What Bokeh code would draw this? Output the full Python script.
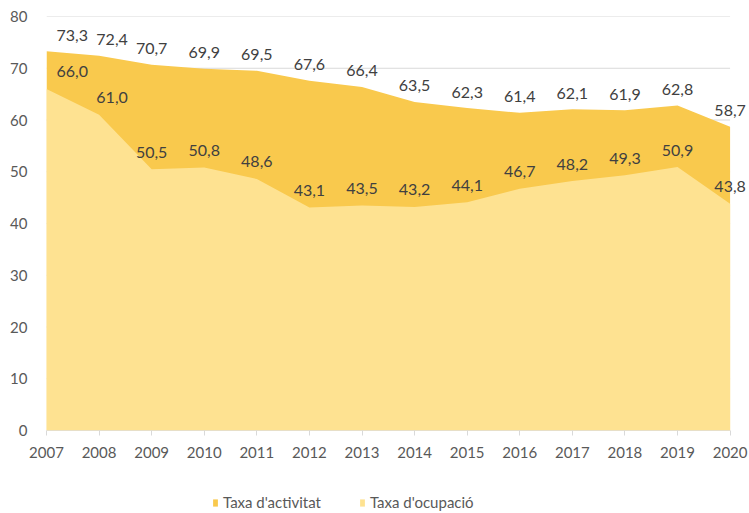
from bokeh.plotting import figure
from bokeh.layouts import column
from bokeh.models import ColumnDataSource, LabelSet, Legend, LegendItem, FixedTicker, Range1d
from bokeh.core.properties import value
from bokeh.embed import file_html
from bokeh.resources import INLINE

years = [2007, 2008, 2009, 2010, 2011, 2012, 2013, 2014, 2015, 2016, 2017, 2018, 2019, 2020]
activitat = [73.3, 72.4, 70.7, 69.9, 69.5, 67.6, 66.4, 63.5, 62.3, 61.4, 62.1, 61.9, 62.8, 58.7]
ocupacio = [66.0, 61.0, 50.5, 50.8, 48.6, 43.1, 43.5, 43.2, 44.1, 46.7, 48.2, 49.3, 50.9, 43.8]
y_ticks = [0, 10, 20, 30, 40, 50, 60, 70, 80]
series_names = ["Taxa d'activitat", "Taxa d'ocupació"]

COL_ACT = "#F9C94D"
COL_OCU = "#FEE291"
GRID = "#D9D9D9"
FONT = "Lato"

def fmt(v):
    return f"{v:.1f}".replace(".", ",")

n = len(years)
# first label sits inside the plot edge, second nudged right to avoid overlap
align = ["left" if i == 0 else "center" for i in range(n)]
xoff = [10 if i == 0 else (13 if i == 1 else 0) for i in range(n)]

src = ColumnDataSource(dict(
    x=years, act=activitat, ocu=ocupacio,
    act_txt=[fmt(v) for v in activitat],
    ocu_txt=[fmt(v) for v in ocupacio],
    align=align, xoff=xoff,
))

p = figure(width=749, height=490, output_backend="svg", toolbar_location=None,
           x_range=Range1d(years[0], years[-1] + 0.35), y_range=Range1d(0, 80),
           min_border_left=46, min_border_right=1, min_border_top=16, min_border_bottom=60)
p.outline_line_color = None
p.background_fill_color = "white"

# horizontal gridlines spanning only the data years
p.segment(x0=[years[0]] * len(y_ticks), x1=[years[-1]] * len(y_ticks),
          y0=y_ticks, y1=y_ticks, line_color=GRID, line_width=1, level="underlay")

r_act = p.varea(x="x", y1=0, y2="act", source=src, fill_color=COL_ACT)
r_ocu = p.varea(x="x", y1=0, y2="ocu", source=src, fill_color=COL_OCU)

# x axis line
p.segment(x0=[years[0]], x1=[years[-1]], y0=[0], y1=[0], line_color=GRID, line_width=1)

p.xgrid.grid_line_color = None
p.ygrid.grid_line_color = None

p.yaxis.ticker = FixedTicker(ticks=y_ticks)
p.yaxis.axis_line_color = None
p.yaxis.major_tick_line_color = None
p.yaxis.minor_tick_line_color = None
p.yaxis.major_label_standoff = 13
p.yaxis.major_label_text_font = FONT
p.yaxis.major_label_text_font_size = "15px"
p.yaxis.major_label_text_color = "#595959"

p.xaxis.ticker = FixedTicker(ticks=years)
p.xaxis.major_label_overrides = {y: str(y) for y in years}
p.xaxis.axis_line_color = None
p.xaxis.major_tick_line_color = GRID
p.xaxis.major_tick_out = 5
p.xaxis.major_tick_in = 0
p.xaxis.minor_tick_line_color = None
p.xaxis.major_label_standoff = 11
p.xaxis.major_label_text_font = FONT
p.xaxis.major_label_text_font_size = "15px"
p.xaxis.major_label_text_color = "#595959"

for col, txt, off in (("act", "act_txt", 16), ("ocu", "ocu_txt", 17)):
    ls = LabelSet(x="x", y=col, text=txt, source=src, y_offset=off, x_offset="xoff",
                  text_align="align", text_baseline="middle",
                  text_font=value(FONT), text_font_size="16px", text_color="#404040")
    p.add_layout(ls)

# legend strip below the chart (its renderers lie outside its own visible range)
lg = figure(width=749, height=23, output_backend="svg", toolbar_location=None,
            x_range=Range1d(0, 1), y_range=Range1d(0, 1),
            x_axis_location=None, y_axis_location=None,
            min_border_left=0, min_border_right=0, min_border_top=0, min_border_bottom=0)
lg.outline_line_color = None
lg.xgrid.grid_line_color = None
lg.ygrid.grid_line_color = None
la = lg.varea(x="x", y1=0, y2="act", source=src, fill_color=COL_ACT)
lo = lg.varea(x="x", y1=0, y2="ocu", source=src, fill_color=COL_OCU)

legend = Legend(items=[LegendItem(label=series_names[0], renderers=[la]),
                       LegendItem(label=series_names[1], renderers=[lo])],
                orientation="horizontal", location=(166, 2),
                padding=0, margin=0, spacing=38,
                glyph_width=6, glyph_height=9, label_height=16, label_standoff=5,
                label_text_font=FONT, label_text_font_size="15px", label_text_color="#595959",
                border_line_color=None, background_fill_alpha=0)
lg.add_layout(legend, "center")

layout = column(p, lg, spacing=0)
open("out.html", "w").write(file_html(layout, INLINE))
